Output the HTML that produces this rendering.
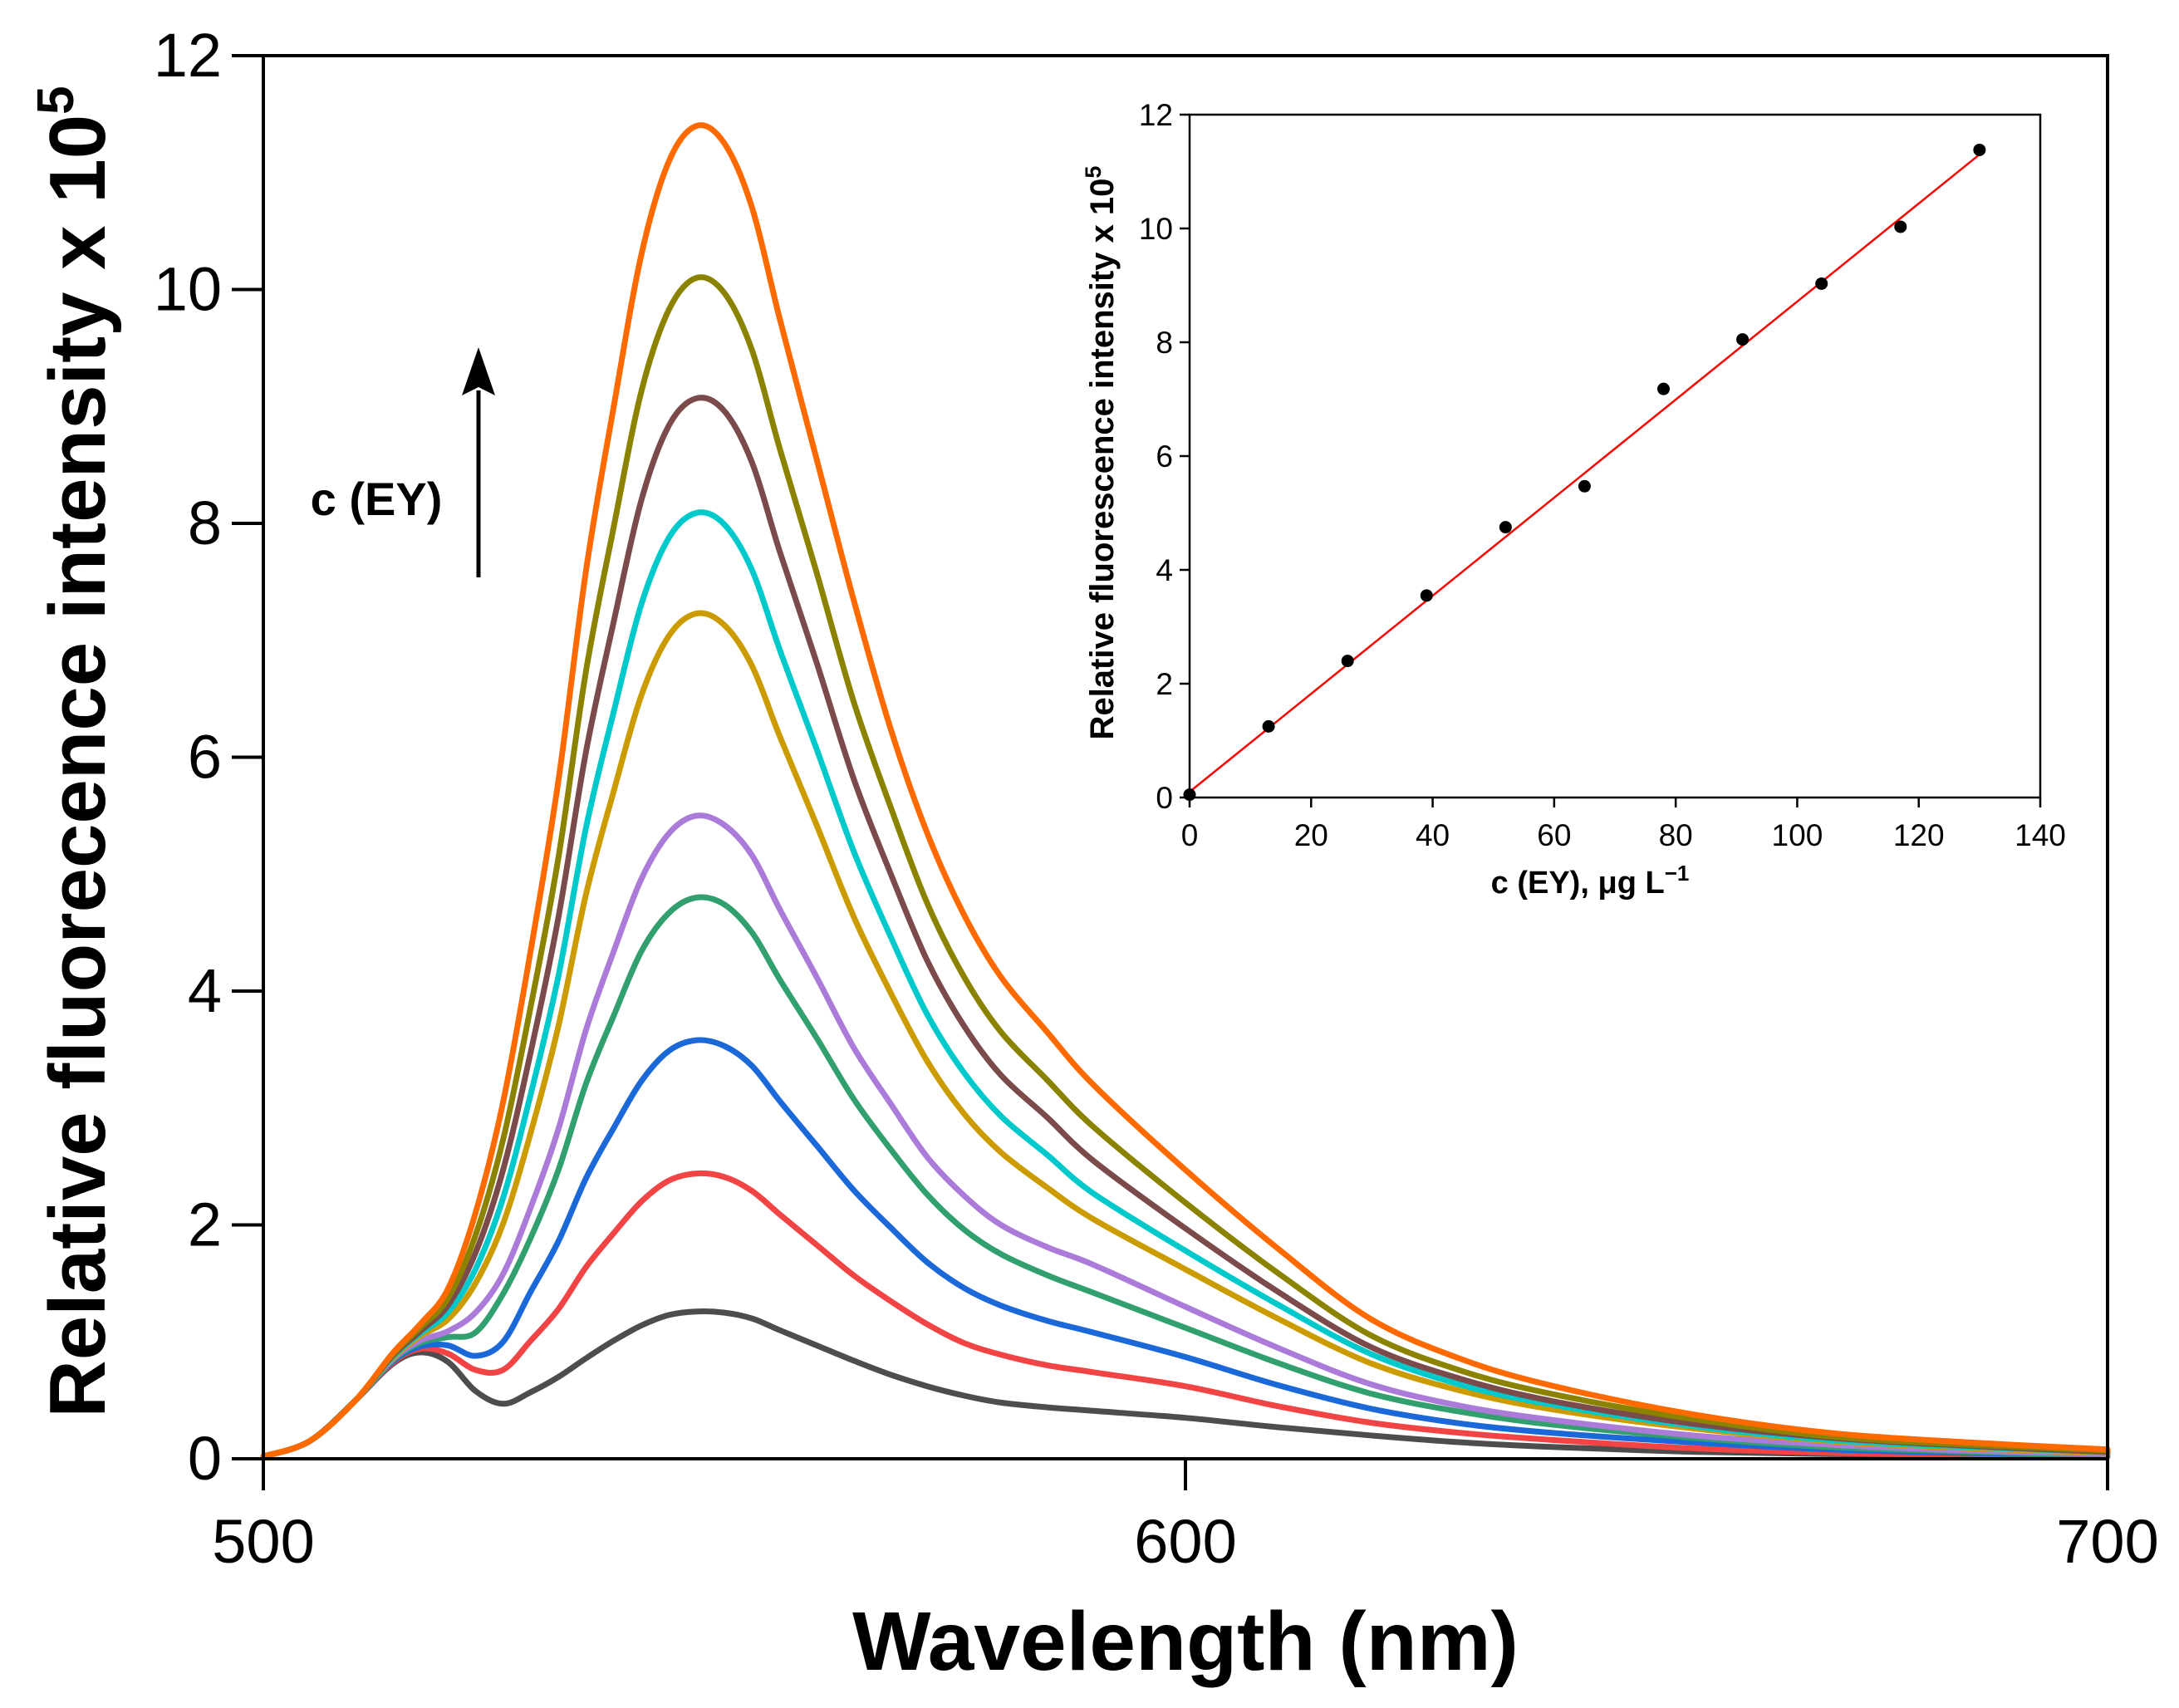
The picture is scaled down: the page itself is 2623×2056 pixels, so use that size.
<!DOCTYPE html>
<html><head><meta charset="utf-8"><style>
html,body{margin:0;padding:0;background:#fff;}
svg{display:block;font-family:"Liberation Sans",Arial,sans-serif;}
</style></head><body>
<svg id="chart" width="2623" height="2056" viewBox="0 0 2623 2056" xmlns="http://www.w3.org/2000/svg">
<rect width="2623" height="2056" fill="#fff"/>
<g id="main"></g>
<g id="inset"></g>
</svg>
<script>
// ---- main chart data ----
const wavelengths = [500,505,510,514,517,520,523,526,529,532,535,538,541,544,547,550,553,556,560,564,568,572,576,580,585,590,600,610,620,630,640,655,670,685,700];
const seriesGray   = [.02,.15,.5,.81,.91,.83,.58,.47,.57,.70,.86,1.01,1.14,1.23,1.26,1.25,1.20,1.10,.97,.84,.72,.62,.54,.48,.44,.41,.35,.27,.20,.14,.10,.06,.04,.03,.02];
const seriesRed    = [.02,.15,.5,.82,.94,.90,.76,.76,1.01,1.28,1.64,1.93,2.20,2.38,2.44,2.41,2.29,2.09,1.83,1.57,1.35,1.15,.99,.89,.80,.74,.62,.45,.31,.22,.16,.09,.05,.03,.02];
const seriesBlue   = [.02,.15,.5,.83,.96,.97,.88,1.00,1.43,1.86,2.40,2.83,3.23,3.49,3.58,3.53,3.36,3.06,2.68,2.30,1.98,1.68,1.46,1.31,1.18,1.08,.87,.63,.43,.30,.22,.14,.08,.05,.03];
const seriesGreen  = [.02,.15,.5,.84,.99,1.04,1.08,1.41,1.89,2.47,3.21,3.79,4.34,4.67,4.80,4.74,4.50,4.10,3.60,3.08,2.65,2.26,1.96,1.75,1.57,1.42,1.12,.82,.56,.40,.29,.18,.10,.06,.03];
const seriesPurple = [.02,.15,.5,.85,1.01,1.09,1.25,1.58,2.15,2.82,3.67,4.34,4.96,5.35,5.50,5.42,5.16,4.70,4.12,3.52,3.04,2.58,2.25,2.00,1.81,1.66,1.30,.95,.64,.45,.33,.20,.12,.07,.04];
const seriesGold   = [.02,.15,.5,.86,1.05,1.19,1.50,2.01,2.79,3.70,4.83,5.71,6.53,7.04,7.23,7.13,6.78,6.18,5.42,4.64,3.99,3.40,2.95,2.62,2.32,2.05,1.62,1.20,.82,.58,.42,.26,.15,.09,.05];
const seriesCyan   = [.02,.15,.5,.87,1.07,1.25,1.62,2.23,3.12,4.13,5.40,6.39,7.31,7.88,8.09,7.99,7.60,6.92,6.07,5.20,4.47,3.80,3.30,2.93,2.60,2.27,1.78,1.32,.90,.63,.46,.28,.16,.10,.06];
const seriesBrown  = [.02,.15,.5,.88,1.09,1.31,1.76,2.47,3.48,4.63,6.05,7.16,8.20,8.84,9.07,8.96,8.52,7.76,6.81,5.82,5.01,4.26,3.70,3.28,2.92,2.55,1.97,1.43,.96,.68,.49,.30,.18,.11,.06];
const seriesOlive  = [.02,.15,.5,.89,1.12,1.37,1.91,2.73,3.87,5.14,6.74,7.97,9.13,9.83,10.10,9.97,9.48,8.64,7.58,6.48,5.58,4.75,4.12,3.65,3.24,2.84,2.19,1.59,1.06,.75,.55,.34,.19,.12,.07];
const seriesOrange = [.02,.15,.5,.9,1.15,1.45,2.1,3.05,4.35,5.8,7.6,9.0,10.3,11.1,11.4,11.25,10.7,9.75,8.55,7.35,6.25,5.35,4.65,4.12,3.65,3.2,2.47,1.8,1.2,.85,.62,.38,.22,.14,.08];
const mainXTicks = [500,600,700];
const mainYTicks = [0,2,4,6,8,10,12];
// ---- inset data ----
const insetConc = [0,13,26,39,52,65,78,91,104,117,130];
const insetIntensity = [0.05,1.25,2.4,3.55,4.75,5.47,7.18,8.05,9.03,10.03,11.38];
const insetFitX = [0,130];
const insetFitY = [0.1,11.3];
const insetXTicks = [0,20,40,60,80,100,120,140];
const insetYTicks = [0,2,4,6,8,10,12];

const NS = "http://www.w3.org/2000/svg";
function mk(tag, attrs, parent){const e=document.createElementNS(NS,tag);for(const k in attrs)e.setAttribute(k,attrs[k]);parent.appendChild(e);return e;}

const main = document.getElementById('main');
const L=317,R=2537,T=67,B=1756;
const xs = v => L + (v-500)/200*(R-L);
const ys = v => B - v/12*(B-T);

function smoothPath(pts){
  let d = `M${pts[0][0].toFixed(1)},${pts[0][1].toFixed(1)}`;
  for(let i=0;i<pts.length-1;i++){
    const p0=pts[i-1]||pts[i], p1=pts[i], p2=pts[i+1], p3=pts[i+2]||p2;
    const c1x=p1[0]+(p2[0]-p0[0])/6, c1y=p1[1]+(p2[1]-p0[1])/6;
    const c2x=p2[0]-(p3[0]-p1[0])/6, c2y=p2[1]-(p3[1]-p1[1])/6;
    d+=` C${c1x.toFixed(1)},${c1y.toFixed(1)} ${c2x.toFixed(1)},${c2y.toFixed(1)} ${p2[0].toFixed(1)},${p2[1].toFixed(1)}`;
  }
  return d;
}

const seriesList = [
  ['gray',seriesGray,'#4d4d4d'],['red',seriesRed,'#f24444'],['blue',seriesBlue,'#1b68d8'],
  ['green',seriesGreen,'#31a06e'],['purple',seriesPurple,'#ab7bd9'],['gold',seriesGold,'#cc9b00'],
  ['cyan',seriesCyan,'#00c9cc'],['brown',seriesBrown,'#7b4a4a'],['olive',seriesOlive,'#8b8300'],
  ['orange',seriesOrange,'#ff6a00']
];
seriesList.forEach(([nm,vals,col])=>{
  const pts = wavelengths.map((w,i)=>[xs(w),ys(vals[i])]);
  const p = mk('path',{d:smoothPath(pts),fill:'none',stroke:col,'stroke-width':7,'stroke-linejoin':'round','stroke-linecap':'round'},main);
  
  
});

const frame = mk('rect',{x:L,y:T,width:R-L,height:B-T,fill:'none',stroke:'#000','stroke-width':4},main);


mainYTicks.forEach(v=>{
  const t = mk('line',{x1:L-38,x2:L,y1:ys(v),y2:ys(v),stroke:'#000','stroke-width':4},main);
  
  
  const lb = mk('text',{x:L-50,y:ys(v)+25,'text-anchor':'end','font-size':74,fill:'#000'},main);
  lb.textContent = v;
  
  
});
mainXTicks.forEach(v=>{
  const t = mk('line',{x1:xs(v),x2:xs(v),y1:B,y2:B+38,stroke:'#000','stroke-width':4},main);
  
  
  const lb = mk('text',{x:xs(v),y:B+125,'text-anchor':'middle','font-size':74,fill:'#000'},main);
  lb.textContent = v;
  
  
});
const xt = mk('text',{x:1427,y:2010,'text-anchor':'middle','font-size':100,'font-weight':'bold',fill:'#000'},main);
xt.textContent='Wavelength (nm)';


const yt = mk('text',{x:0,y:0,'text-anchor':'middle','font-size':96,'font-weight':'bold',fill:'#000',transform:'translate(126,905) rotate(-90)'},main);
yt.innerHTML='Relative fluorecence intensity x 10<tspan dy="-38" font-size="62">5</tspan>';


const ann = mk('text',{x:453,y:620,'text-anchor':'middle','font-size':56,'font-weight':'bold',fill:'#000'},main);
ann.textContent='c (EY)';


const arr = mk('line',{x1:576,x2:576,y1:695,y2:470,stroke:'#000','stroke-width':5},main);


const ah = mk('polygon',{points:'576,418 556,476 576,466 596,476',fill:'#000'},main);



// inset
const inset = document.getElementById('inset');
const iL=1432,iR=2456,iT=138,iB=960;
const ix = v => iL + v/140*(iR-iL);
const iy = v => iB - v/12*(iB-iT);
const ifr = mk('rect',{x:iL,y:iT,width:iR-iL,height:iB-iT,fill:'#fff',stroke:'#000','stroke-width':2.5},inset);


insetYTicks.forEach(v=>{
  const t = mk('line',{x1:iL-12,x2:iL,y1:iy(v),y2:iy(v),stroke:'#000','stroke-width':2.5},inset);
  
  
  const lb = mk('text',{x:iL-20,y:iy(v)+13,'text-anchor':'end','font-size':37,fill:'#000'},inset);
  lb.textContent=v;
  
  
});
insetXTicks.forEach(v=>{
  const t = mk('line',{x1:ix(v),x2:ix(v),y1:iB,y2:iB+12,stroke:'#000','stroke-width':2.5},inset);
  
  
  const lb = mk('text',{x:ix(v),y:iB+58,'text-anchor':'middle','font-size':37,fill:'#000'},inset);
  lb.textContent=v;
  
  
});
const fit = mk('line',{x1:ix(insetFitX[0]),y1:iy(insetFitY[0]),x2:ix(insetFitX[1]),y2:iy(insetFitY[1]),stroke:'#f00','stroke-width':2.5},inset);


insetConc.forEach((c,i)=>{
  const d = mk('circle',{cx:ix(c),cy:iy(insetIntensity[i]),r:7.5,fill:'#000'},inset);
  
  
});
const ixt = mk('text',{x:1914,y:1075,'text-anchor':'middle','font-size':38,'font-weight':'bold',fill:'#000'},inset);
ixt.innerHTML='c (EY), μg L<tspan dy="-15" font-size="26">−1</tspan>';


const iyt = mk('text',{x:0,y:0,'text-anchor':'middle','font-size':40,'font-weight':'bold',fill:'#000',transform:'translate(1340,545) rotate(-90)'},inset);
iyt.innerHTML='Relative fluorescence intensity x 10<tspan dy="-15" font-size="27">5</tspan>';


</script>
</body></html>
